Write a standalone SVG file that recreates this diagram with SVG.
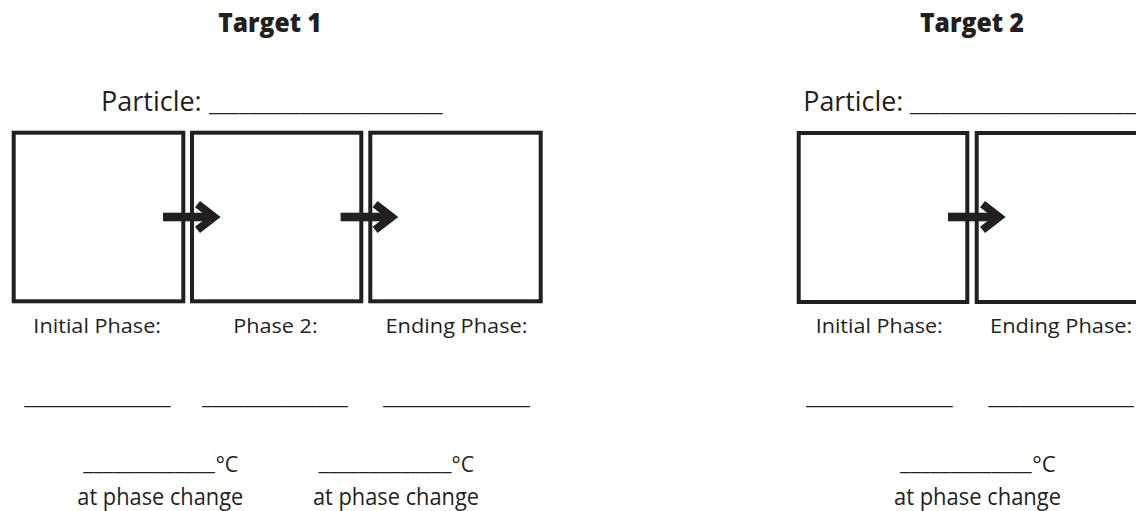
<svg xmlns="http://www.w3.org/2000/svg" width="1136" height="511" viewBox="0 0 1136 511">
<style>
.t{font-family:"Open Sans","Noto Sans","DejaVu Sans",sans-serif;fill:#231f20}
.title{font-weight:800;font-size:27px}
.part{font-size:27px;font-weight:500}
.lab{font-size:20.5px;font-weight:500}
.blank{font-size:22px}
.deg{font-size:22px;font-weight:500}
.apc{font-size:23px;font-weight:500}
.box{fill:#fff;stroke:#231f20;stroke-width:4}
.arrow{fill:#231f20}
</style>
<defs>
<g id="arrowShape">
<rect x="-57.7" y="-4.3" width="47.6" height="8.6"/>
<polygon points="-20.7,-16 0,0 -20.7,16 -25.7,9.7 -13,0 -25.7,-9.7"/>
</g>
</defs>
<rect width="1136" height="511" fill="#fff"/>

<g id="target1-header">
<text class="t title" x="270" y="32.3" text-anchor="middle" textLength="103.4" lengthAdjust="spacingAndGlyphs">Target 1</text>
<text class="t part" x="101" y="111" textLength="100.7" lengthAdjust="spacingAndGlyphs">Particle:</text>
<text class="t blank" x="209" y="111" textLength="233.7" lengthAdjust="spacingAndGlyphs">_______________________</text>
</g>
<g id="target2-header">
<text class="t title" x="972" y="32.3" text-anchor="middle" textLength="104" lengthAdjust="spacingAndGlyphs">Target 2</text>
<text class="t part" x="803.3" y="110.7" textLength="100" lengthAdjust="spacingAndGlyphs">Particle:</text>
<text class="t blank" x="910" y="111" textLength="233.7" lengthAdjust="spacingAndGlyphs">_______________________</text>
</g>

<g id="t1-initial">
<rect class="box" x="13.7" y="132.7" width="169.6" height="168.6"/>
<text class="t lab" x="97.2" y="333.3" text-anchor="middle" textLength="127.7" lengthAdjust="spacingAndGlyphs">Initial Phase:</text>
<text class="t blank" x="24.3" y="404" textLength="146.4" lengthAdjust="spacingAndGlyphs">______________</text>
</g>
<g id="t1-phase2">
<rect class="box" x="192" y="132.7" width="169.3" height="168.6"/>
<text class="t lab" x="275.5" y="333.3" text-anchor="middle" textLength="84.3" lengthAdjust="spacingAndGlyphs">Phase 2:</text>
<text class="t blank" x="202" y="404" textLength="146" lengthAdjust="spacingAndGlyphs">______________</text>
</g>
<g id="t1-ending">
<rect class="box" x="370.3" y="132.7" width="170.4" height="168.6"/>
<text class="t lab" x="456.5" y="333.3" text-anchor="middle" textLength="142" lengthAdjust="spacingAndGlyphs">Ending Phase:</text>
<text class="t blank" x="383" y="404" textLength="147" lengthAdjust="spacingAndGlyphs">______________</text>
</g>
<g id="t1-change1">
<text class="t blank" x="83.3" y="470" textLength="131.7" lengthAdjust="spacingAndGlyphs">_____________</text>
<text class="t deg" x="215.7" y="472.3" textLength="22.6" lengthAdjust="spacingAndGlyphs">°C</text>
<text class="t apc" x="160.3" y="505" text-anchor="middle" textLength="166" lengthAdjust="spacingAndGlyphs">at phase change</text>
</g>
<g id="t1-change2">
<text class="t blank" x="318.4" y="470" textLength="133.1" lengthAdjust="spacingAndGlyphs">_____________</text>
<text class="t deg" x="451.5" y="472.3" textLength="22.6" lengthAdjust="spacingAndGlyphs">°C</text>
<text class="t apc" x="396" y="505" text-anchor="middle" textLength="166" lengthAdjust="spacingAndGlyphs">at phase change</text>
</g>

<g id="t2-initial">
<rect class="box" x="798.7" y="133" width="168.6" height="169"/>
<text class="t lab" x="879.2" y="333.3" text-anchor="middle" textLength="127" lengthAdjust="spacingAndGlyphs">Initial Phase:</text>
<text class="t blank" x="806" y="403.5" textLength="146.7" lengthAdjust="spacingAndGlyphs">______________</text>
</g>
<g id="t2-ending">
<rect class="box" x="976.7" y="133" width="169" height="169"/>
<text class="t lab" x="1061.2" y="333.3" text-anchor="middle" textLength="142.3" lengthAdjust="spacingAndGlyphs">Ending Phase:</text>
<text class="t blank" x="988.3" y="403.5" textLength="145.7" lengthAdjust="spacingAndGlyphs">______________</text>
</g>
<g id="t2-change">
<text class="t blank" x="900" y="470" textLength="131.7" lengthAdjust="spacingAndGlyphs">_____________</text>
<text class="t deg" x="1032.2" y="472.3" textLength="23.5" lengthAdjust="spacingAndGlyphs">°C</text>
<text class="t apc" x="977.5" y="505" text-anchor="middle" textLength="167" lengthAdjust="spacingAndGlyphs">at phase change</text>
</g>

<g id="connectors" class="arrow">
<use href="#arrowShape" transform="translate(220.7,217)"/>
<use href="#arrowShape" transform="translate(398.3,217)"/>
<use href="#arrowShape" transform="translate(1005.7,217)"/>
</g>
</svg>
